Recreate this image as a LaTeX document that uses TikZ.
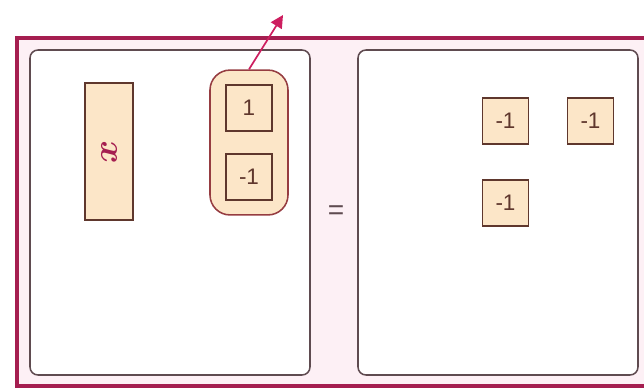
\documentclass[tikz,border=0pt]{standalone}
\usepackage{fontspec}
\setmainfont{Liberation Sans}
\usetikzlibrary{arrows.meta}

\definecolor{framered}{RGB}{165,30,80}
\definecolor{framefill}{RGB}{253,240,245}
\definecolor{boxline}{RGB}{95,75,80}
\definecolor{tilefill}{RGB}{252,230,200}
\definecolor{tileline}{RGB}{95,55,45}
\definecolor{grpline}{RGB}{150,60,65}
\definecolor{arrowred}{RGB}{205,30,95}

\tikzstyle{panel} = [draw=boxline, line width=1.1pt, fill=white, rounded corners=0.2cm]
\tikzstyle{unit} = [draw=tileline, line width=1pt, fill=tilefill, minimum width=1.15cm, minimum height=1.15cm, inner sep=0pt, text=tileline, font=\fontsize{16}{18}\selectfont]
\tikzstyle{xtile} = [draw=tileline, line width=1pt, fill=tilefill, minimum width=1.2cm, minimum height=3.42cm, inner sep=0pt]
\tikzstyle{pair} = [draw=grpline, line width=1.1pt, fill=tilefill, rounded corners=0.5cm, minimum width=1.95cm, minimum height=3.62cm]

\begin{document}
\begin{tikzpicture}[x=0.025cm, y=-0.025cm]
\useasboundingbox (0,0) rectangle (644,389);
% outer frame
\draw[framered, line width=2.8pt, fill=framefill] (17,38) rectangle (660,386);
% the two sides
\draw[panel] (30,50) rectangle (310,375);
\draw[panel] (358,50) rectangle (638,375);
\node[text=boxline, font=\fontsize{20}{20}\selectfont] (eq) at (336,213) {=};
% left side
\node[xtile] (xt) at (109,151.5) {};
\node[rotate=90, text=framered, font=\fontsize{26}{26}\selectfont\boldmath] (xl) at (109,151.5) {$x$};
\node[pair] (grp) at (249,142.5) {};
\node[unit] (p1) at (249,108) {1};
\node[unit] (m1) at (249,177) {-1};
\coordinate (out) at (283,15);
\draw[arrowred, line width=1.2pt, -{Triangle[length=9pt,width=9pt]}] (grp.north) -- (out);
% right side
\node[unit] (r1) at (505.5,121) {-1};
\node[unit] (r2) at (590.5,121) {-1};
\node[unit] (r3) at (505.5,203) {-1};
\end{tikzpicture}
\end{document}
